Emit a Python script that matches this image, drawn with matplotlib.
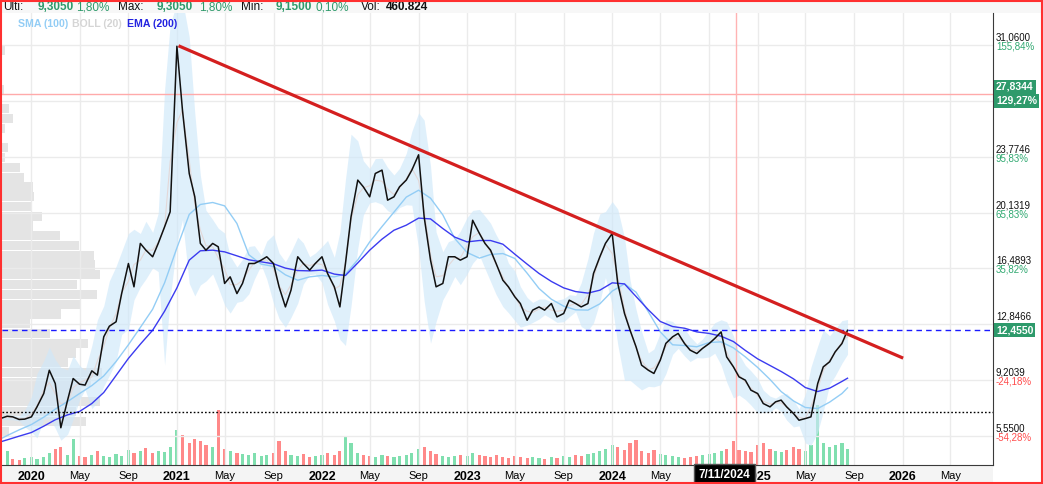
import numpy as np
import pandas as pd
import matplotlib
matplotlib.use('Agg')
import matplotlib.pyplot as plt
import matplotlib.transforms as mtransforms
from matplotlib.patches import Rectangle

plt.rcParams['font.family'] = ['Liberation Sans', 'DejaVu Sans']

# semimonthly closes
price_dates = pd.date_range('2019-10-15', '2025-08-15', freq='SMS')
price = [6.70, 6.85, 6.81, 6.64, 6.66,
         6.81, 7.46, 8.33, 9.85, 8.98, 6.10, 7.90, 9.31, 8.94, 8.88, 9.81, 9.53,
         12.03, 12.72, 13.01, 14.85, 16.81, 15.29, 18.12, 17.68, 17.25, 18.12, 19.20, 20.18,
         30.98, 26.81, 22.68, 21.16, 18.12, 17.68, 18.12, 17.90, 15.51, 15.94, 14.85, 15.51,
         16.81, 16.81, 17.03, 17.25, 16.81, 15.29, 13.98, 15.07, 17.25, 16.81, 16.38, 16.81,
         17.25, 16.16, 15.29, 13.98, 16.80, 19.85, 22.25, 21.81, 21.16, 22.68, 22.90, 20.94,
         21.16, 21.81, 22.25, 22.90, 23.90, 19.85, 17.03, 15.29, 15.51, 17.25, 17.25, 17.03,
         17.25, 19.63, 18.77, 18.12, 17.68, 16.81, 15.72, 15.29, 14.64, 14.20, 13.11, 13.77,
         13.98, 13.77, 14.20, 13.33, 13.55, 14.42, 14.20, 13.98, 14.20, 16.16, 17.25, 18.12,
         18.77, 15.51, 13.55, 12.46, 11.38, 10.18, 9.85, 9.64, 10.51, 11.60, 12.03, 12.25,
         11.59, 11.16, 10.94, 11.27, 11.59, 11.92, 12.35, 10.72, 10.07, 9.42, 9.20, 8.55,
         8.33, 7.68, 7.46, 7.79, 7.90, 7.46, 7.03, 6.59, 6.70, 6.81, 8.98, 10.07,
         10.40, 11.05, 11.59, 12.455]

volume = [6, 14, 6, 5, 7,
          8, 6, 8, 12, 16, 18, 10, 26, 9, 8, 10, 14,
          9, 8, 11, 9, 15, 12, 14, 17, 12, 14, 13, 18,
          35, 30, 22, 26, 24, 20, 18, 55, 16, 14, 12, 11,
          10, 12, 9, 10, 12, 24, 14, 10, 9, 11, 8, 9,
          10, 12, 10, 14, 28, 22, 12, 10, 9, 8, 10, 9,
          8, 9, 10, 12, 16, 18, 14, 11, 9, 8, 9, 10,
          9, 12, 10, 9, 8, 10, 8, 7, 9, 8, 7, 8,
          7, 6, 8, 7, 9, 8, 10, 9, 11, 12, 14, 16,
          20, 18, 15, 22, 25, 14, 12, 15, 11, 10, 9, 8,
          7, 8, 9, 10, 11, 12, 14, 16, 24, 15, 14, 13,
          20, 22, 16, 14, 13, 15, 18, 16, 14, 20, 60, 22,
          18, 20, 22, 16]

# monthly indicator readings
ind_dates = list(pd.date_range('2019-10-01', '2025-08-01', freq='MS')) + [pd.Timestamp('2025-08-15')]
sma100 = [5.18, 5.59, 5.96,
          6.31, 6.79, 7.31, 7.81, 8.33, 8.85, 9.48, 10.42, 11.51, 12.64, 13.83, 15.55,
          17.83, 20.01, 20.66, 20.79, 20.57, 19.42, 17.38, 16.77, 16.62, 16.07, 15.72, 15.94,
          16.03, 15.94, 16.12, 17.05, 18.22, 19.22, 20.16, 21.14, 21.59, 21.07, 19.98, 18.44,
          17.53, 17.16, 17.40, 17.46, 17.14, 16.18, 15.18, 14.48, 14.03, 13.79, 13.77, 14.18,
          15.01, 15.48, 14.94, 13.66, 12.35, 11.51, 11.46, 11.38, 11.66, 11.70, 11.31, 10.72,
          10.03, 9.25, 8.46, 7.85, 7.42, 7.35, 7.77, 8.33, 8.70]
ema200 = [5.07, 5.31, 5.55,
          5.79, 6.20, 6.62, 6.94, 7.16, 7.68, 8.40, 9.51, 10.62, 11.55, 12.46, 13.70,
          15.22, 17.03, 17.64, 17.68, 17.57, 17.31, 17.05, 16.92, 16.79, 16.51, 16.35, 16.33,
          16.38, 16.12, 16.03, 16.85, 17.68, 18.40, 18.98, 19.31, 19.77, 19.72, 19.09, 18.53,
          18.22, 18.31, 18.31, 18.07, 17.42, 16.77, 16.16, 15.64, 15.22, 14.98, 14.88, 15.07,
          15.55, 15.48, 14.66, 13.79, 13.03, 12.70, 12.59, 12.35, 12.25, 12.07, 11.72, 11.14,
          10.59, 10.16, 9.77, 9.29, 8.72, 8.46, 8.68, 9.12, 9.33]

# volume profile (top bin to bottom bin)
prof_vol = [3, 0, 0, 0, 2, 0, 7, 10, 3, 0, 6, 3, 17, 21, 29, 30, 28, 38, 29, 55,
            73, 87, 88, 93, 71, 90, 75, 56, 27, 46, 82, 70, 63, 95, 85, 75, 93, 70, 80, 7]

trend_dates = [pd.Timestamp('2021-01-05'), pd.Timestamp('2026-01-02')]
trend_vals = [31.01, 10.64]

last_price = 12.455
support = 7.10
hi_level = 27.8344
cross_date = pd.Timestamp('2024-11-07')

ytick_vals = [31.06, 27.4173, 23.7746, 20.1319, 16.4893, 12.8466, 9.2039, 5.55]
# labels hidden behind the price boxes are left empty
ytick_lbls = ['31,0600', '', '23,7746', '20,1319', '16,4893', '12,8466', '9,2039', '5,5500']
pct_lbls = ['155,84%', '', '95,83%', '65,83%', '35,82%', '', '-24,18%', '-54,28%']

W, H = 1043, 484
fig = plt.figure(figsize=(W / 100, H / 100), dpi=100)
ax = fig.add_axes([2 / W, 19 / H, 991 / W, 452 / H])
ax_prof = ax.twiny()
ax_vol = ax.twinx()
ax_prof.set_zorder(1)
ax_vol.set_zorder(2)
ax.set_zorder(3)
ax.patch.set_visible(False)

# backgrounds
fig.add_artist(Rectangle((0, 1 - 13 / H), 1, 13 / H, transform=fig.transFigure,
                         fc='#f7f7f7', ec='none', zorder=-2))
fig.add_artist(Rectangle((0, 0), 993 / W, 19 / H, transform=fig.transFigure,
                         fc='#f4f4f4', ec='none', zorder=-2))

# volume profile
levels = np.linspace(30.72, 5.88, len(prof_vol))
ax_prof.barh(levels, prof_vol, height=0.6, color='#e4e4e4', lw=0)
ax_prof.set_xlim(0, max(prof_vol) * 991 / 100)
ax_prof.axis('off')

# volume bars
pr = np.array(price)
up = np.r_[True, pr[1:] >= pr[:-1]]
vcol = np.where(up, '#3ccf85', '#ff4a4a')
ax_vol.bar(price_dates, volume, width=8, color=vcol, alpha=0.65, lw=0)
ax_vol.set_ylim(0, max(volume) * 452 / 60)
ax_vol.axis('off')

# bollinger band
s = pd.Series(price, index=price_dates)
mid = s.rolling(3, center=True, min_periods=1).mean()
sd = s.rolling(5, center=True, min_periods=2).std().bfill().ffill()
ax.fill_between(price_dates, mid - 1.6 * sd, mid + 1.6 * sd, color='#cfe8fa', alpha=0.65, lw=0, zorder=1)
ax.plot(price_dates, mid, color='#e3d8d8', lw=0.8, zorder=2)

ax.plot(ind_dates, sma100, color='#93cdf5', lw=1.0, zorder=3)
ax.plot(ind_dates, ema200, color='#3b3bf0', lw=1.0, zorder=3)
ax.plot(price_dates, price, color='#111111', lw=1.1, zorder=4)

ax.axhline(last_price, color='#1a1aff', lw=1, dashes=(4, 3), zorder=3)
ax.axhline(support, color='black', lw=1, dashes=(1.2, 1.5), zorder=3)
ax.axhline(hi_level, color='#ffaaaa', lw=1, zorder=2)
ax.axvline(cross_date, color='#ffb3b3', lw=1, zorder=2)
ax.plot(trend_dates, trend_vals, color='#d41f1f', lw=2.3, zorder=5, solid_capstyle='butt')

ax.set_xlim(pd.Timestamp('2019-10-19'), pd.Timestamp('2026-08-16'))
ax.set_ylim(3.670, 33.147)
ax.set_yticks(ytick_vals)
ax.tick_params(axis='y', left=False, right=False, labelleft=False)

xt = pd.date_range('2020-01-01', '2026-05-01', freq='MS')
xt = [d for d in xt if d.month in (1, 5, 9)]
# Sep 2024 sits under the crosshair date box
xl = [str(d.year) if d.month == 1 else ('' if (d.year, d.month) == (2024, 9) else d.strftime('%b'))
      for d in xt]
ax.set_xticks(xt)
ax.set_xticklabels(xl)
ax.tick_params(axis='x', length=0, pad=4, labelsize=8)
for t, d in zip(ax.get_xticklabels(), xt):
    if d.month == 1:
        t.set_fontweight('bold')
        t.set_fontsize(9)
ax.grid(color='#ebebeb', lw=1, zorder=0)
ax.set_axisbelow(True)
for sp in ['left', 'top']:
    ax.spines[sp].set_visible(False)
for sp in ['right', 'bottom']:
    ax.spines[sp].set_color('#3a3a3a')

# right scale labels
base = mtransforms.blended_transform_factory(ax.transAxes, ax.transData)
tr_val = mtransforms.offset_copy(base, fig=fig, x=3, y=7.5, units='dots')
tr_pct = mtransforms.offset_copy(base, fig=fig, x=3, y=-1.5, units='dots')
for v, lb, pc in zip(ytick_vals, ytick_lbls, pct_lbls):
    if lb:
        ax.text(1, v, lb, transform=tr_val, fontsize=7, va='center', ha='left',
                color='#111111', clip_on=False)
    if pc:
        ax.text(1, v, pc, transform=tr_pct, fontsize=7, va='center', ha='left',
                color='#ff4d4d' if pc.startswith('-') else '#2fa870', clip_on=False)

box = dict(boxstyle='square,pad=0.2', fc='#2e9a6b', ec='none')
tr_b1 = mtransforms.offset_copy(base, fig=fig, x=3, y=7.5, units='dots')
tr_b2 = mtransforms.offset_copy(base, fig=fig, x=3, y=-6.5, units='dots')
tr_b3 = mtransforms.offset_copy(base, fig=fig, x=3, y=0, units='dots')
ax.text(1, hi_level, '27,8344', transform=tr_b1, fontsize=7.5, fontweight='bold', color='white',
        va='center', ha='left', bbox=box, clip_on=False, zorder=10)
ax.text(1, hi_level, '129,27%', transform=tr_b2, fontsize=7.5, fontweight='bold', color='white',
        va='center', ha='left', bbox=box, clip_on=False, zorder=10)
ax.text(1, last_price, '12,4550', transform=tr_b3, fontsize=7.5, fontweight='bold', color='white',
        va='center', ha='left', bbox=box, clip_on=False, zorder=10)

# crosshair date label
tr_d = mtransforms.offset_copy(mtransforms.blended_transform_factory(ax.transData, ax.transAxes),
                               fig=fig, x=-11, y=-9.5, units='dots')
ax.text(cross_date, 0, '7/11/2024', transform=tr_d, fontsize=8.5, fontweight='bold', color='white',
        va='center', ha='center', clip_on=False, zorder=10,
        bbox=dict(boxstyle='square,pad=0.4', fc='black', ec='#555555'))

# header
hy = 1 - 7.5 / H
hs = 8.5
fig.text(3 / W, hy, 'Ulti:', fontsize=hs, va='center', color='#111111')
fig.text(38 / W, hy, '9,3050', fontsize=hs, va='center', color='#2e9a6b', fontweight='bold')
fig.text(76 / W, hy, '1,80%', fontsize=hs, va='center', color='#2e9a6b')
fig.text(118 / W, hy, 'Max:', fontsize=hs, va='center', color='#111111')
fig.text(157 / W, hy, '9,3050', fontsize=hs, va='center', color='#2e9a6b', fontweight='bold')
fig.text(199 / W, hy, '1,80%', fontsize=hs, va='center', color='#2e9a6b')
fig.text(241 / W, hy, 'Min:', fontsize=hs, va='center', color='#111111')
fig.text(276 / W, hy, '9,1500', fontsize=hs, va='center', color='#2e9a6b', fontweight='bold')
fig.text(315 / W, hy, '0,10%', fontsize=hs, va='center', color='#2e9a6b')
fig.text(361 / W, hy, 'Vol:', fontsize=hs, va='center', color='#111111')
fig.text(386 / W, hy, '460.824', fontsize=hs, va='center', color='#111111', fontweight='bold')

ly = 1 - 24 / H
fig.text(18 / W, ly, 'SMA (100)', fontsize=7.6, va='center', color='#93cdf5', fontweight='bold')
fig.text(72 / W, ly, 'BOLL (20)', fontsize=7.6, va='center', color='#d5d5d5', fontweight='bold')
fig.text(127 / W, ly, 'EMA (200)', fontsize=7.6, va='center', color='#2323e0', fontweight='bold')

fig.add_artist(Rectangle((0.001, 0.002), 0.998, 0.996, transform=fig.transFigure,
                         fill=False, ec='#ff3030', lw=1.5, zorder=20))

fig.savefig('out.png', dpi=100)
